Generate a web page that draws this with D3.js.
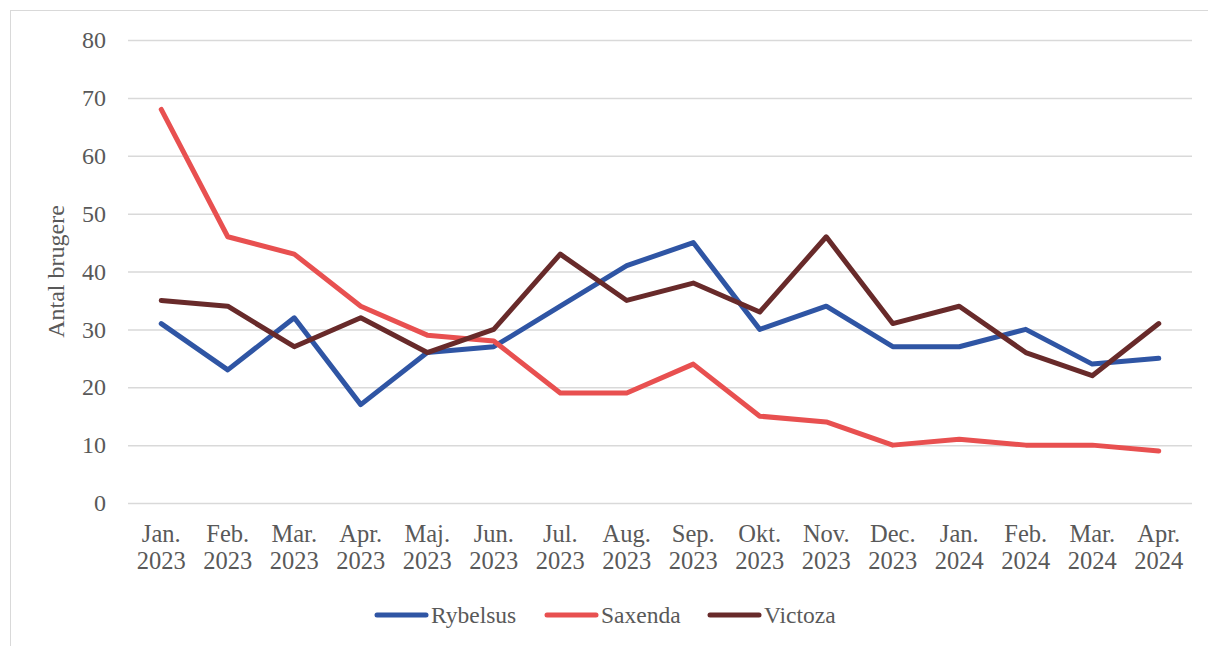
<!DOCTYPE html>
<html>
<head>
<meta charset="utf-8">
<script src="https://cdn.jsdelivr.net/npm/d3@7"></script>
<style>
  body { margin: 0; background: #fff; }
  text { font-family: "Liberation Serif", "DejaVu Serif", serif; fill: #595959; }
</style>
</head>
<body>
<svg id="chart" width="1208" height="646"></svg>
<script>
var months = ["Jan.", "Feb.", "Mar.", "Apr.", "Maj.", "Jun.", "Jul.", "Aug.", "Sep.", "Okt.", "Nov.", "Dec.", "Jan.", "Feb.", "Mar.", "Apr."];
var years = ["2023", "2023", "2023", "2023", "2023", "2023", "2023", "2023", "2023", "2023", "2023", "2023", "2024", "2024", "2024", "2024"];
var rybelsus = [31, 23, 32, 17, 26, 27, 34, 41, 45, 30, 34, 27, 27, 30, 24, 25];
var saxenda = [68, 46, 43, 34, 29, 28, 19, 19, 24, 15, 14, 10, 11, 10, 10, 9];
var victoza = [35, 34, 27, 32, 26, 30, 43, 35, 38, 33, 46, 31, 34, 26, 22, 31];
var yTicks = [0, 10, 20, 30, 40, 50, 60, 70, 80];

var series = [
  {name: "Rybelsus", values: rybelsus, color: "#2f55a4"},
  {name: "Saxenda", values: saxenda, color: "#e85050"},
  {name: "Victoza", values: victoza, color: "#682a2a"}
];

var margin = {top: 40, right: 16, bottom: 143, left: 128},
    width = 1208 - margin.left - margin.right,
    height = 646 - margin.top - margin.bottom;

var svg = d3.select("#chart");

// outer frame (clipped by the window on the right and bottom)
svg.append("rect")
  .attr("x", 10.5).attr("y", 10.5)
  .attr("width", 1220).attr("height", 660)
  .attr("fill", "none")
  .attr("stroke", "#d9d9d9")
  .attr("stroke-width", 1);

var g = svg.append("g").attr("transform", "translate(" + margin.left + "," + margin.top + ")");

var idx = d3.range(months.length);
var x = d3.scaleBand().domain(idx).range([0, width]);
var y = d3.scaleLinear().domain([0, 80]).range([height, 0]);

// gridlines
var y_axis = g.append("g")
  .attr("class", "y-axis")
  .call(d3.axisLeft(y).tickValues(yTicks).tickSize(-width).tickPadding(22));
y_axis.select(".domain").remove();
y_axis.selectAll("line").attr("stroke", "#d9d9d9").attr("stroke-width", 1.5);
y_axis.selectAll("text")
  .attr("font-size", "24px")
  .attr("fill", "#595959")
  .style("font-family", "Liberation Serif, serif");

// x labels (two lines)
var x_axis = g.append("g")
  .attr("class", "x-axis")
  .attr("transform", "translate(0," + height + ")")
  .call(d3.axisBottom(x).tickSize(0).tickFormat(function() { return ""; }));
x_axis.select(".domain").remove();
x_axis.selectAll(".tick").each(function(d) {
  var t = d3.select(this).append("text")
    .attr("text-anchor", "middle")
    .attr("font-size", "24.5px")
    .attr("fill", "#595959");
  t.append("tspan").attr("x", 0).attr("y", 39).text(months[d]);
  t.append("tspan").attr("x", 0).attr("y", 66).text(years[d]);
});

// axis title
g.append("text")
  .attr("transform", "translate(" + (-64) + "," + (height / 2) + ") rotate(-90)")
  .attr("text-anchor", "middle")
  .attr("font-size", "24px")
  .text("Antal brugere");

var line = d3.line()
  .x(function(d, i) { return x(i) + x.bandwidth() / 2; })
  .y(function(d) { return y(d); });

series.forEach(function(s) {
  g.append("path")
    .datum(s.values)
    .attr("fill", "none")
    .attr("stroke", s.color)
    .attr("stroke-width", 5)
    .attr("stroke-linejoin", "round")
    .attr("stroke-linecap", "round")
    .attr("d", line);
});

// legend
var legendX = [375, 545, 708];
var legend = svg.append("g").attr("class", "legend");
series.forEach(function(s, i) {
  var lg = legend.append("g").attr("transform", "translate(" + legendX[i] + ",615)");
  lg.append("line")
    .attr("x1", 2).attr("x2", 51)
    .attr("y1", 0).attr("y2", 0)
    .attr("stroke", s.color)
    .attr("stroke-width", 5)
    .attr("stroke-linecap", "round");
  lg.append("text")
    .attr("x", 56).attr("y", 8)
    .attr("font-size", "23.5px")
    .text(s.name);
});
</script>
</body>
</html>
